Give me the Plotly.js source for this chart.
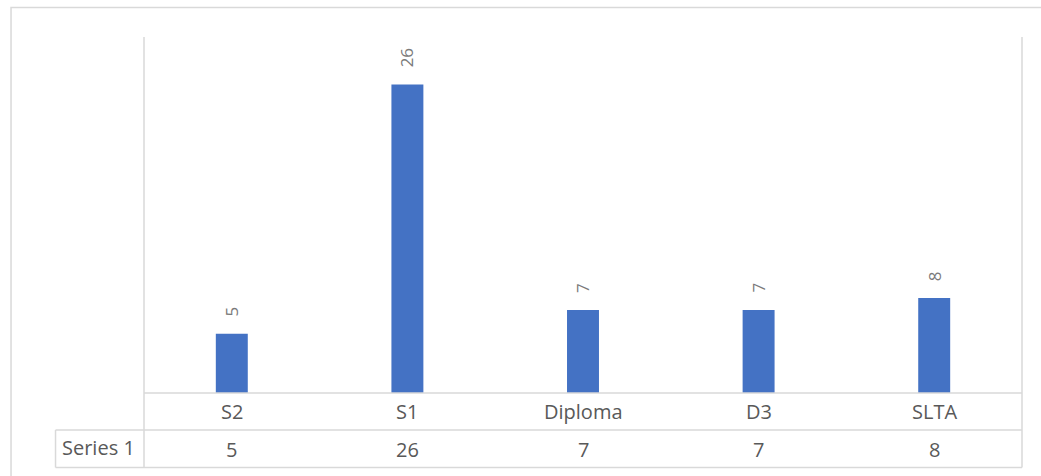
<!DOCTYPE html>
<html>
<head>
<meta charset="utf-8">
<script src="https://cdn.plot.ly/plotly-3.0.1.min.js"></script>
<style>
  html, body { margin: 0; padding: 0; background: #ffffff; }
  #chart { width: 1041px; height: 476px; }
</style>
</head>
<body>
<div id="chart"></div>
<script>
const categories = ["S2", "S1", "Diploma", "D3", "SLTA"];
const seriesName = "Series 1";
const values = [5, 26, 7, 7, 8];

const W = 1041, H = 476;
const mL = 143.5, mR = W - 1021.7, mT = 37, mB = H - 393;
const plotW = W - mL - mR, plotH = H - mT - mB;
const px = x => (x - mL) / plotW;          // pixel x -> paper x
const py = y => (H - mB - y) / plotH;      // pixel y -> paper y

const gridColor = "#d9d9d9";
const textColor = "#595959";
const labelColor = "#7a7a7a";
const fontFam = "'Open Sans', 'Liberation Sans', sans-serif";

const trace = {
  type: "bar",
  x: categories,
  y: values,
  name: seriesName,
  marker: { color: "#4472C4", line: { width: 0 } },
  hoverinfo: "skip"
};

const line = (x0, y0, x1, y1) => ({
  type: "line", xref: "paper", yref: "paper",
  x0: px(x0), y0: py(y0), x1: px(x1), y1: py(y1),
  line: { color: gridColor, width: 1.5 }
});

const shapes = [
  // outer chart border
  { type: "rect", xref: "paper", yref: "paper",
    x0: px(10.5), y0: py(490), x1: px(1060), y1: py(7.5),
    line: { color: gridColor, width: 1.5 }, fillcolor: "rgba(0,0,0,0)" },
  line(143.5, 37, 143.5, 467.5),
  line(1021.7, 37, 1021.7, 467.5),
  line(143.5, 393, 1021.7, 393),
  line(55, 430, 1021.7, 430),
  line(55, 467.5, 1021.7, 467.5),
  line(55, 430, 55, 467.5)
];

const annotations = [];
categories.forEach((c, i) => {
  // data label above bar
  annotations.push({
    x: c, y: values[i], xref: "x", yref: "y",
    text: String(values[i]), showarrow: false, textangle: -90,
    xanchor: "center", yanchor: "bottom", yshift: 15,
    font: { family: fontFam, size: 17, color: labelColor }
  });
  // category label in table
  annotations.push({
    x: c, y: py(411.5), xref: "x", yref: "paper",
    text: c, showarrow: false, xanchor: "center", yanchor: "middle",
    font: { family: fontFam, size: 20, color: textColor }
  });
  // value row in table
  annotations.push({
    x: c, y: py(449), xref: "x", yref: "paper",
    text: String(values[i]), showarrow: false, xanchor: "center", yanchor: "middle",
    font: { family: fontFam, size: 20, color: textColor }
  });
});
annotations.push({
  x: px(98), y: py(447.5), xref: "paper", yref: "paper",
  text: seriesName, showarrow: false, xanchor: "center", yanchor: "middle",
  font: { family: fontFam, size: 20, color: textColor }
});

const layout = {
  width: W, height: H,
  margin: { l: mL, r: mR, t: mT, b: mB, pad: 0 },
  paper_bgcolor: "#ffffff",
  plot_bgcolor: "#ffffff",
  showlegend: false,
  bargap: 0.818,
  xaxis: {
    type: "category",
    showticklabels: false, showgrid: false, zeroline: false,
    showline: false, ticks: "", fixedrange: true
  },
  yaxis: {
    range: [0, 30],
    showticklabels: false, showgrid: false, zeroline: false,
    showline: false, ticks: "", fixedrange: true
  },
  shapes: shapes,
  annotations: annotations,
  font: { family: fontFam, color: textColor }
};

Plotly.newPlot("chart", [trace], layout, { staticPlot: true, displayModeBar: false });
</script>
</body>
</html>
